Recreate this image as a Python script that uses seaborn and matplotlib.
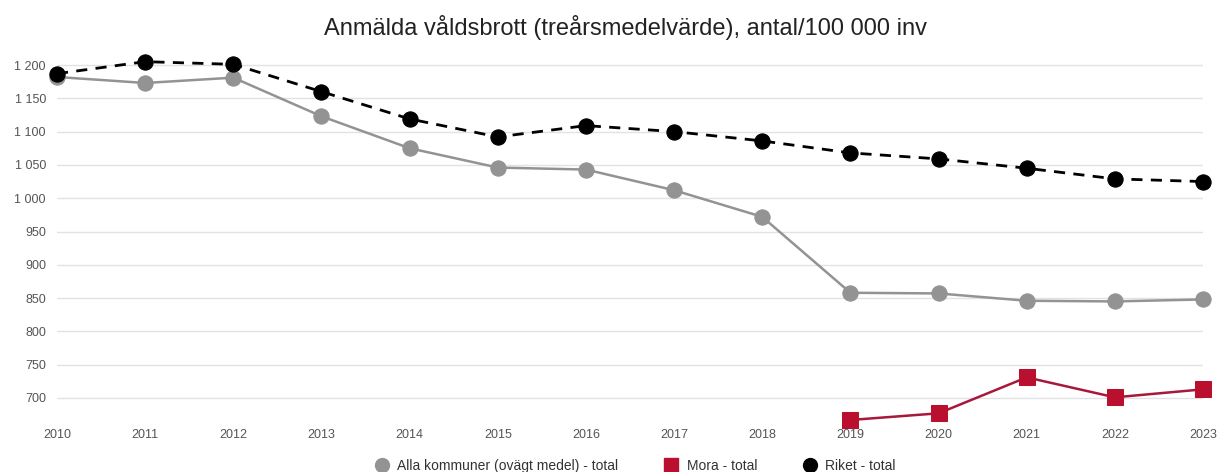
import matplotlib
matplotlib.use("Agg")
import matplotlib.pyplot as plt
from matplotlib.lines import Line2D
import seaborn as sns
import pandas as pd

years = list(range(2010, 2024))
alla = [1182, 1173, 1181, 1123, 1075, 1046, 1043, 1012, 972, 858, 857, 846, 845, 848]
riket = [1187, 1205, 1201, 1160, 1119, 1092, 1109, 1100, 1086, 1068, 1059, 1045, 1029, 1025]
mora_years = [2019, 2020, 2021, 2022, 2023]
mora = [667, 677, 731, 701, 713]

labels = ["Alla kommuner (ovägt medel) - total", "Mora - total", "Riket - total"]
title = "Anmälda våldsbrott (treårsmedelvärde), antal/100 000 inv"
yticks = list(range(700, 1201, 50))

sns.set_theme(style="white")
plt.rcParams['font.family'] = ['Liberation Sans', 'DejaVu Sans']

df_alla = pd.DataFrame({"year": years, "value": alla})
df_riket = pd.DataFrame({"year": years, "value": riket})
df_mora = pd.DataFrame({"year": mora_years, "value": mora})

fig = plt.figure(figsize=(12.18, 4.72), dpi=100)
# y=1200 at px 65, y=700 at px 398
ppu = (398 - 65) / 500.0
ymin, ymax = 662, 1215
top_px = 65 - (ymax - 1200) * ppu
bot_px = 398 + (700 - ymin) * ppu
ax = fig.add_axes([57/1218, 1-bot_px/472, (1203-57)/1218, (bot_px-top_px)/472])

gray = "#939393"
red = "#b8102e"

sns.lineplot(data=df_mora, x="year", y="value", ax=ax, color="#a8183a", lw=1.8,
             marker="s", markersize=11, markerfacecolor=red, markeredgecolor=red, clip_on=False, zorder=3)
sns.lineplot(data=df_alla, x="year", y="value", ax=ax, color=gray, lw=1.8,
             marker="o", markersize=11, markerfacecolor=gray, markeredgecolor=gray, clip_on=False, zorder=4)
sns.lineplot(data=df_riket, x="year", y="value", ax=ax, color="black", lw=2.0,
             marker="o", markersize=11, markerfacecolor="black", markeredgecolor="black", clip_on=False, zorder=5)
ax.lines[-1].set_dashes([4, 3])

ax.set_xlim(2010, 2023)
ax.set_ylim(ymin, ymax)
ax.set_xticks(years)
ax.set_xticklabels([str(y) for y in years])
ax.set_yticks(yticks)
ax.set_yticklabels([f"{v:,}".replace(",", " ") for v in yticks])
ax.set_xlabel("")
ax.set_ylabel("")
ax.yaxis.grid(True, color="#e2e2e2", lw=1)
ax.xaxis.grid(False)
for s in ax.spines.values():
    s.set_visible(False)
ax.tick_params(axis="both", length=0, labelsize=9, labelcolor="#555555")
ax.tick_params(axis="x", pad=4)
ax.tick_params(axis="y", pad=8)

fig.text(625/1218, 1 - 27/472, title, ha="center", va="center", fontsize=17, color="#222222")

handles = [
    Line2D([], [], ls="none", marker="o", markersize=10, color=gray),
    Line2D([], [], ls="none", marker="s", markersize=10, color=red),
    Line2D([], [], ls="none", marker="o", markersize=10, color="black"),
]
fig.legend(handles, labels, loc="center", bbox_to_anchor=(632/1218, 1 - 466/472), ncol=3,
           frameon=False, fontsize=10, handletextpad=0.1, columnspacing=2.8,
           labelcolor="#333333")

fig.savefig("out.png", dpi=100)
